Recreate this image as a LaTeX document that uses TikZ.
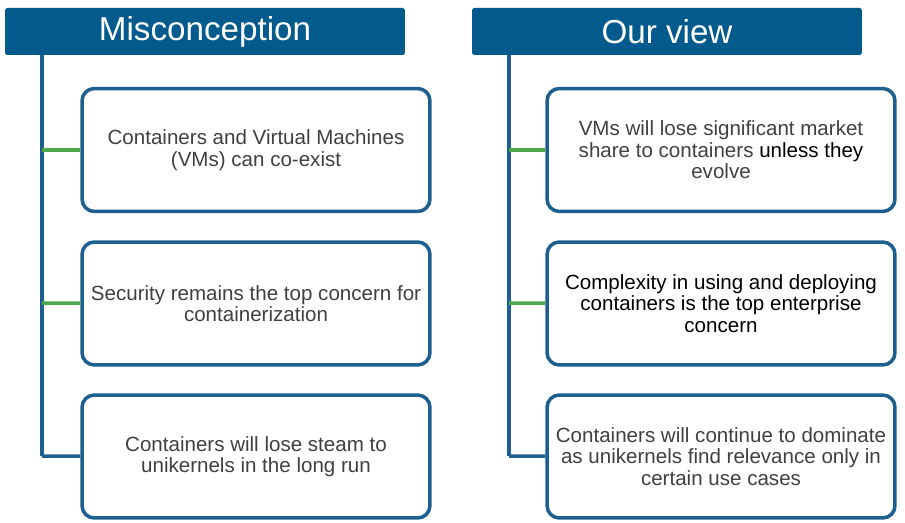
\documentclass[tikz,border=0pt]{standalone}
\usepackage{fontspec}
\setmainfont{Liberation Sans}
\definecolor{hdrblue}{HTML}{035A8C}
\definecolor{boxblue}{HTML}{1D5F8E}
\definecolor{lgreen}{HTML}{4CA84C}
\definecolor{txtgray}{HTML}{404040}
\begin{document}
\begin{tikzpicture}[x=0.02cm,y=-0.02cm,
  header/.style={fill=hdrblue,text=white,inner sep=0pt,rounded corners=1pt,
    font=\fontsize{18.9}{20}\selectfont},
  item/.style={draw=boxblue,line width=2pt,rounded corners=7pt,fill=white,
    minimum width=6.96cm,minimum height=2.46cm,align=center,inner sep=0pt,
    text=txtgray,font=\fontsize{11.7}{12.2}\selectfont},
  trunk/.style={draw=boxblue,line width=2pt},
  branch/.style={draw=lgreen,line width=2pt}]
\useasboundingbox (0,0) rectangle (905,523);
% headers
\node[header,minimum width=8cm,minimum height=0.94cm] (h1) at (205,31.5) {Misconception};
\node[header,minimum width=7.8cm,minimum height=0.94cm] (h2) at (667,31.5) {Our view};
% left column
\coordinate (l0) at (42,55);
\coordinate (l1) at (42,150);
\coordinate (l2) at (42,303);
\coordinate (l3) at (42,456);
\node[item] (a1) at (256,150) {Containers and Virtual Machines\\(VMs) can co-exist};
\node[item] (a2) at (256,303.5) {Security remains the top concern for\\containerization};
\node[item] (a3) at (256,456.5) {Containers will lose steam to\\unikernels in the long run};
\draw[trunk] (l0) -- (l3);
\draw[branch] (l1) -- (a1);
\draw[branch] (l2) -- (a2);
\draw[trunk] (l3) -- (a3);
% right column
\coordinate (r0) at (509,55);
\coordinate (r1) at (509,150);
\coordinate (r2) at (509,303);
\coordinate (r3) at (509,456);
\node[item] (b1) at (721,150) {VMs will lose significant market\\share to containers {\color{black}unless they}\\evolve};
\node[item,text=black] (b2) at (721,303.5) {Complexity in using and deploying\\containers is the top enterprise\\concern};
\node[item] (b3) at (721,456.5) {Containers will continue to dominate\\as unikernels find relevance only in\\certain use cases};
\draw[trunk] (r0) -- (r3);
\draw[branch] (r1) -- (b1);
\draw[branch] (r2) -- (b2);
\draw[trunk] (r3) -- (b3);
\end{tikzpicture}
\end{document}
